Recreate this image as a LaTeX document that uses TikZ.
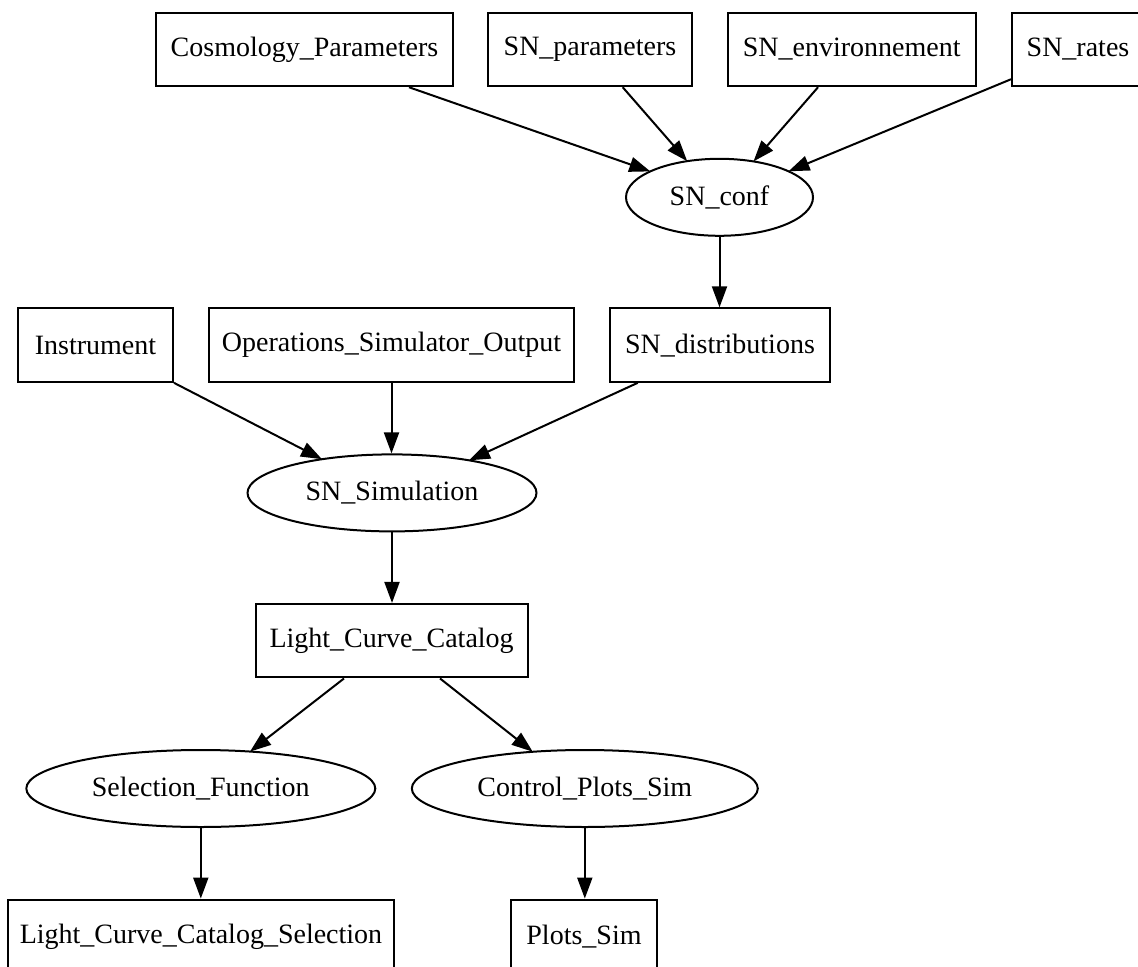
\documentclass[tikz,border=0pt]{standalone}
\usepackage{fontspec}
\setmainfont{Liberation Serif}
\usetikzlibrary{shapes.geometric,arrows.meta,calc}
\tikzset{
  boxnode/.style={draw, rectangle, line width=1pt, inner sep=0pt, minimum height=36.75pt, font=\fontsize{14}{17}\selectfont},
  ellnode/.style={draw, ellipse, line width=1pt, inner sep=0pt, minimum height=38.5pt, font=\fontsize{14}{17}\selectfont},
  edge/.style={line width=1pt, -{Triangle[length=10.5pt,width=7.5pt]}}
}
\begin{document}
\begin{tikzpicture}[x=0.5pt,y=-0.5pt]
\useasboundingbox (0,0) rectangle (1138,967);
\clip (0,0) rectangle (1138,967);
% row 1
\node[boxnode, minimum width=148.5pt] (cosmo) at (304.5,49.5) {Cosmology\_Parameters};
\node[boxnode, minimum width=102pt] (snpar) at (590,49.5) {SN\_parameters};
\node[boxnode, minimum width=124pt] (snenv) at (851.75,49.5) {SN\_environnement};
\node[boxnode, minimum width=66pt] (snrates) at (1078,49.5) {SN\_rates};
% row 2
\node[ellnode, minimum width=93.5pt] (conf) at (719.5,197.3) {SN\_conf};
% row 3
\node[boxnode, minimum width=77.5pt] (instr) at (95.5,345.1) {Instrument};
\node[boxnode, minimum width=182.5pt] (ops) at (391.5,345.1) {Operations\_Simulator\_Output};
\node[boxnode, minimum width=110pt] (dist) at (720,345.1) {SN\_distributions};
% row 4
\node[ellnode, minimum width=144.5pt] (sim) at (392,492.9) {SN\_Simulation};
% row 5
\node[boxnode, minimum width=136pt] (lcc) at (391.6,640.7) {Light\_Curve\_Catalog};
% row 6
\node[ellnode, minimum width=174.5pt] (sel) at (200.8,788.5) {Selection\_Function};
\node[ellnode, minimum width=173pt] (ctrl) at (584.8,788.5) {Control\_Plots\_Sim};
% row 7
\node[boxnode, minimum width=193pt] (lccs) at (201,936.3) {Light\_Curve\_Catalog\_Selection};
\node[boxnode, minimum width=73.3pt] (plots) at (584,936.3) {Plots\_Sim};
% edges
\draw[edge] ($(cosmo.south)+(104.5,0)$) -- ($(conf.center)+(-69.2,-25.9)$);
\draw[edge] ($(snpar.south)+(32.7,0)$) -- ($(conf.center)+(-32.3,-36.1)$);
\draw[edge] ($(snenv.south)+(-33.75,0)$) -- ($(conf.center)+(34,-35.9)$);
\draw[edge] ($(snrates.south west)+(0,-8)$) -- ($(conf.center)+(69,-26)$);
\draw[edge] (conf.south) -- (conf.south |- dist.north);
\draw[edge] (instr.south east) -- ($(sim.center)+(-70,-33.7)$);
\draw[edge] (ops.south) -- (ops.south |- sim.north);
\draw[edge] ($(dist.south)+(-82.3,0)$) -- ($(sim.center)+(77,-32.6)$);
\draw[edge] (sim.south) -- (sim.south |- lcc.north);
\draw[edge] ($(lcc.south)+(-47.6,0)$) -- ($(sel.center)+(49.2,-36.9)$);
\draw[edge] ($(lcc.south)+(48.4,0)$) -- ($(ctrl.center)+(-52.1,-36.8)$);
\draw[edge] (sel.south) -- (sel.south |- lccs.north);
\draw[edge] (ctrl.south) -- (ctrl.south |- plots.north);
\end{tikzpicture}
\end{document}
